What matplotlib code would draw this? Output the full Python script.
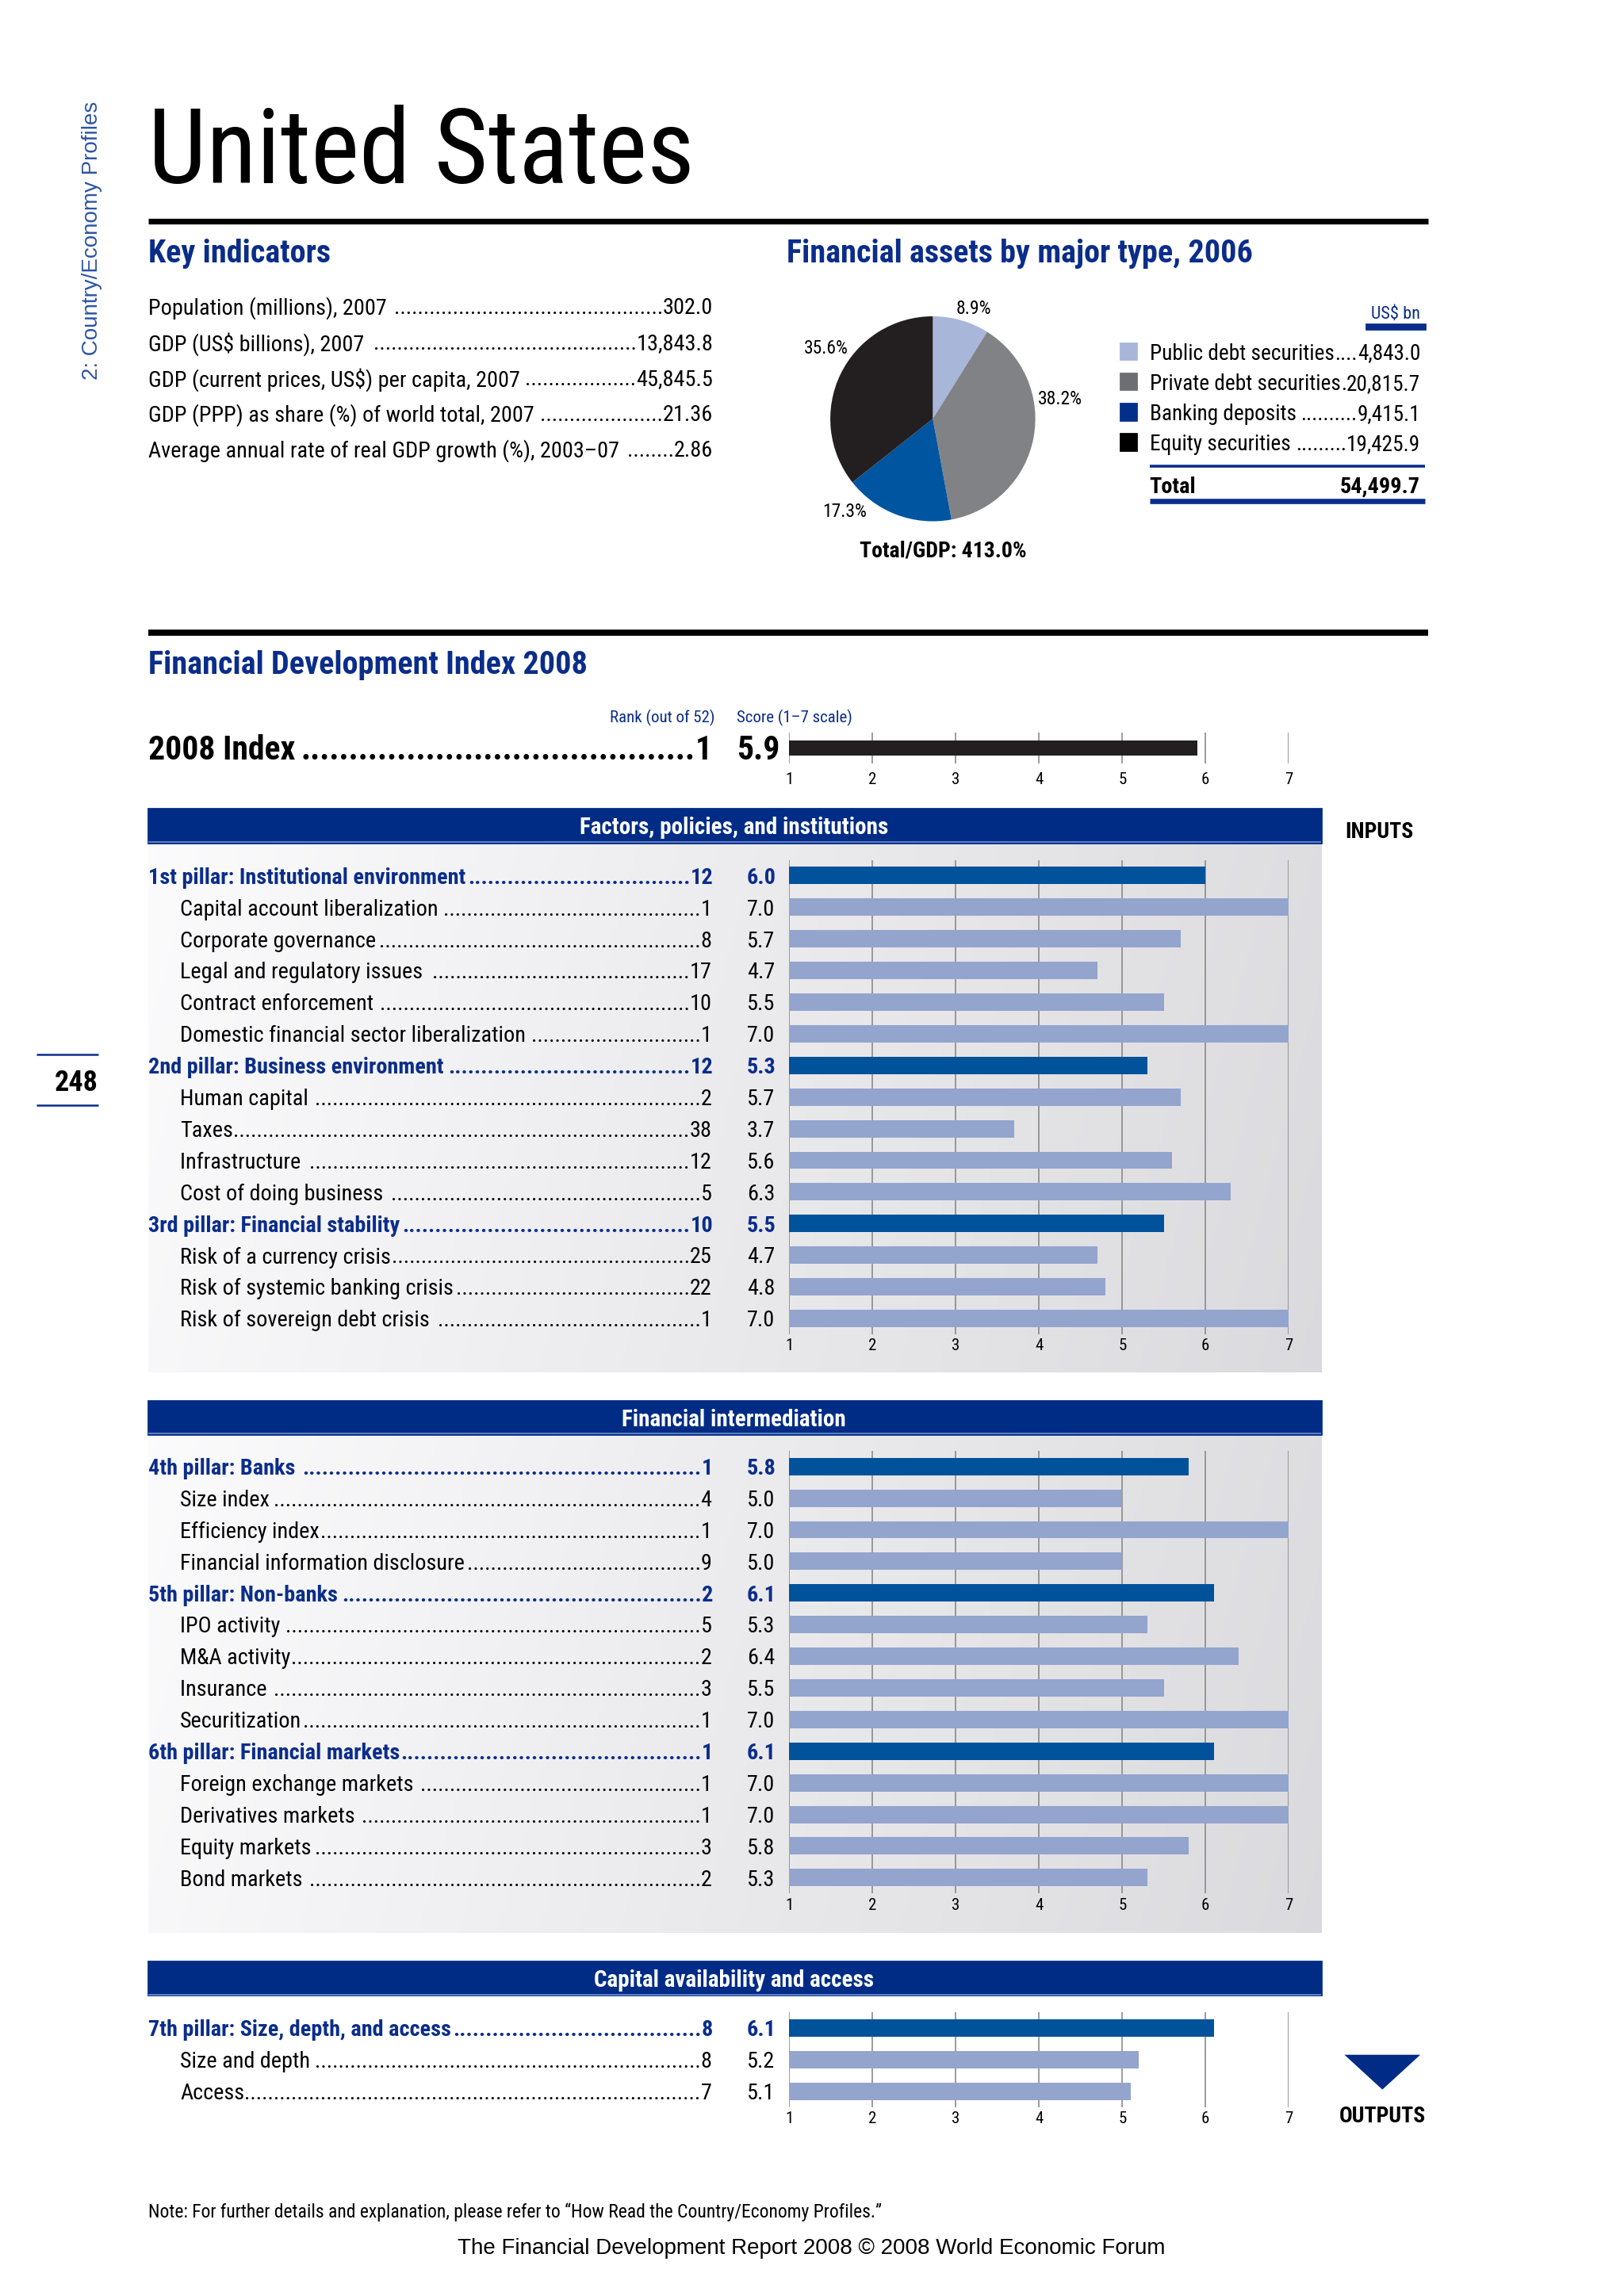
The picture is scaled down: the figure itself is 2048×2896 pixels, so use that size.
import matplotlib
matplotlib.use('Agg')
import matplotlib.pyplot as plt
import numpy as np
from matplotlib import font_manager, transforms
from matplotlib.patches import Rectangle, Polygon
from matplotlib.lines import Line2D

# ------------------------------------------------------------------
## data
key_labels = ['Population (millions), 2007',
              'GDP (US$ billions), 2007',
              'GDP (current prices, US$) per capita, 2007',
              'GDP (PPP) as share (%) of world total, 2007',
              'Average annual rate of real GDP growth (%), 2003\u201307']
key_values = ['302.0', '13,843.8', '45,845.5', '21.36', '2.86']

asset_types = ['Public debt securities', 'Private debt securities',
               'Banking deposits', 'Equity securities']
asset_values = [4843.0, 20815.7, 9415.1, 19425.9]
total_gdp = 413.0

index_rank = 1
index_score = 5.9

sec1_title = 'Factors, policies, and institutions'
sec1_labels = ['1st pillar: Institutional environment', 'Capital account liberalization',
               'Corporate governance', 'Legal and regulatory issues ', 'Contract enforcement',
               'Domestic financial sector liberalization', '2nd pillar: Business environment',
               'Human capital ', 'Taxes', 'Infrastructure ', 'Cost of doing business ',
               '3rd pillar: Financial stability', 'Risk of a currency crisis',
               'Risk of systemic banking crisis', 'Risk of sovereign debt crisis ']
sec1_ranks = [12, 1, 8, 17, 10, 1, 12, 2, 38, 12, 5, 10, 25, 22, 1]
sec1_scores = [6.0, 7.0, 5.7, 4.7, 5.5, 7.0, 5.3, 5.7, 3.7, 5.6, 6.3, 5.5, 4.7, 4.8, 7.0]

sec2_title = 'Financial intermediation'
sec2_labels = ['4th pillar: Banks ', 'Size index', 'Efficiency index', 'Financial information disclosure',
               '5th pillar: Non-banks', 'IPO activity', 'M&A activity', 'Insurance ', 'Securitization',
               '6th pillar: Financial markets', 'Foreign exchange markets ', 'Derivatives markets ',
               'Equity markets', 'Bond markets ']
sec2_ranks = [1, 4, 1, 9, 2, 5, 2, 3, 1, 1, 1, 1, 3, 2]
sec2_scores = [5.8, 5.0, 7.0, 5.0, 6.1, 5.3, 6.4, 5.5, 7.0, 6.1, 7.0, 7.0, 5.8, 5.3]

sec3_title = 'Capital availability and access'
sec3_labels = ['7th pillar: Size, depth, and access', 'Size and depth', 'Access']
sec3_ranks = [8, 8, 7]
sec3_scores = [6.1, 5.2, 5.1]

# ------------------------------------------------------------------
## fonts and colours
names = {f.name for f in font_manager.fontManager.ttflist}


def pick(cands, default):
    for c in cands:
        if c in names:
            return c
    return default


NARROW = pick(['Liberation Sans Narrow', 'Roboto Condensed', 'Open Sans Condensed'], 'Liberation Sans')
PLAIN = pick(['Liberation Sans', 'Noto Sans'], 'DejaVu Sans')

NAVY = '#0B2D8A'
HEADER = '#002C86'
PILLAR = '#00529B'
SUB = '#93A4CD'
GRID = '#8a8a8a'
BODY = 10.2

# page coordinates are given on a 1109 x 1568 grid
W, H = 1109.0, 1568.0
fig = plt.figure(figsize=(10.24, 14.48), dpi=200)
renderer = fig.canvas.get_renderer()


def fx(x):
    return x / W


def fy(y):
    return 1 - y / H


def shifted(tr):
    # centred text sits a touch low on the page: nudge it down by 1 pt
    return transforms.offset_copy(tr, fig=fig, y=-1.0, units='points')


def txt(x, y, s, size=BODY, weight='normal', color='black', ha='left', va='center',
        family=None, trans=None, **kw):
    tr = trans or fig.transFigure
    if va == 'center':
        tr = shifted(tr)
    return fig.text(fx(x), y if trans is not None else fy(y), s, fontsize=size,
                    fontweight=weight, color=color, ha=ha, va=va,
                    family=family or NARROW, transform=tr, **kw)


def hline(x0, x1, y, lw, color):
    fig.add_artist(Line2D([fx(x0), fx(x1)], [fy(y), fy(y)], lw=lw, color=color,
                          solid_capstyle='butt', transform=fig.transFigure))


def leader(x0, x1, y, label, value, size=BODY, weight='normal', color='black', trans=None):
    # label on the left, value on the right, dots in between
    t1 = txt(x0, y, label, size, weight, color, trans=trans)
    t2 = txt(x1, y, value, size, weight, color, ha='right', trans=trans)
    b1 = t1.get_window_extent(renderer)
    b2 = t2.get_window_extent(renderer)
    probe = fig.text(0, 0, '.' * 40, fontsize=size, fontweight=weight, family=NARROW)
    dw = probe.get_window_extent(renderer).width / 40
    probe.remove()
    n = int((b2.x0 - b1.x1) / dw)
    if n > 0:
        xs = b2.x0 - n * dw
        fig.text(xs / fig.bbox.width, y if trans is not None else fy(y), '.' * n,
                 fontsize=size, fontweight=weight, color=color, ha='left', va='center',
                 family=NARROW, transform=shifted(trans or fig.transFigure))


# ------------------------------------------------------------------
## page head
txt(63, 163, '2: Country/Economy Profiles', 10, color='#2F55A4', ha='center',
    family=PLAIN, rotation=90)
txt(101, 125, 'United States', 47, va='baseline')
hline(101, 975, 151, 2.6, 'black')

hline(25, 67, 720, 0.9, NAVY)
hline(25, 67, 755, 0.9, NAVY)
txt(67, 738, '248', 13, 'bold', ha='right')

# key indicators
txt(101, 172, 'Key indicators', 14.5, 'bold', NAVY)
for i, (lab, val) in enumerate(zip(key_labels, key_values)):
    leader(101, 487, 209 + 24.3 * i, lab + ' ', val)

# financial assets pie
txt(537, 172, 'Financial assets by major type, 2006', 14.5, 'bold', NAVY)
total = sum(asset_values)
pie_cols = ['#A8B6DA', '#818285', '#0055A0', '#231F20']
box_cols = ['#A8B6DA', '#6D6E71', '#00308A', '#000000']
# where the percentage labels sit, in pie radii from the centre
label_spots = [(0.40, 1.07), (1.24, 0.19), (-0.86, -0.91), (-1.04, 0.69)]
pax = fig.add_axes([fx(567), fy(356), 140 / W, 140 / H])
wedges, labs = pax.pie(asset_values, colors=pie_cols, startangle=90, counterclock=False,
                       labels=['%.1f%%' % (v / total * 100) for v in asset_values],
                       textprops=dict(fontsize=8.5, family=NARROW))
for t, p in zip(labs, label_spots):
    t.set_position(p)
    t.set_ha('center')
    t.set_va('center')
pax.set_xlim(-1, 1)
pax.set_ylim(-1, 1)
pax.set_aspect('equal')
pax.axis('off')
txt(644, 375, 'Total/GDP: %.1f%%' % total_gdp, 10, 'bold', ha='center')

txt(970, 213, 'US$ bn', 8, color=NAVY, ha='right')
fig.add_artist(Rectangle((fx(933), fy(224.5)), 40 / W, 3 / H, color=NAVY,
                         transform=fig.transFigure))
for i, (lab, v) in enumerate(zip(asset_types, asset_values)):
    y = 240 + 20.6 * i
    fig.add_artist(Rectangle((fx(765), fy(y + 5.5)), 11 / W, 11 / H, color=box_cols[i],
                             transform=fig.transFigure))
    leader(785, 970, y, lab, '{:,.1f}'.format(v), 9.8)
hline(785, 973, 318.5, 1.3, NAVY)
txt(785, 331, 'Total', 10.2, 'bold')
txt(970, 331, '{:,.1f}'.format(total), 10.2, 'bold', ha='right')
hline(785, 973, 342, 2.4, NAVY)

# ------------------------------------------------------------------
## Financial Development Index
hline(101, 975, 432, 2.8, 'black')
txt(101, 453, 'Financial Development Index 2008', 14.5, 'bold', NAVY)
txt(488, 489, 'Rank (out of 52)', 7.5, color=NAVY, ha='right')
txt(503, 489, 'Score (1\u20137 scale)', 7.5, color=NAVY)
leader(101, 486, 511, '2008 Index', str(index_rank), 15, 'bold')
txt(503, 511, '%.1f' % index_score, 15, 'bold')


def style_axis(ax, pad):
    ax.set_xlim(1, 7)
    ax.set_xticks(range(1, 8))
    ax.set_yticks([])
    ax.tick_params(axis='x', length=0, pad=pad, labelsize=7.5)
    for lab in ax.get_xticklabels():
        lab.set_family(NARROW)
    for s in ax.spines.values():
        s.set_visible(False)
    ax.grid(axis='x', color=GRID, lw=0.6)
    ax.set_axisbelow(True)
    ax.patch.set_alpha(0)


iax = fig.add_axes([fx(539), fy(521.5), fx(880) - fx(539), 21 / H])
iax.barh([0], [index_score - 1], left=1, height=0.5, color='#231F20')
iax.set_ylim(0.5, -0.5)
style_axis(iax, 4)


def panel(y0, y1):
    gax = fig.add_axes([fx(101), fy(y1), (902 - 101) / W, (y1 - y0) / H])
    xx = np.linspace(0, 1, 300)[None, :]
    yy = np.linspace(0, 1, 60)[:, None]
    t = np.clip(0.85 * xx + 0.1 * yy, 0, 1)
    lo = np.array([0.985, 0.985, 0.99])
    hi = np.array([0.85, 0.85, 0.865])
    img = lo[None, None, :] * (1 - t[..., None]) + hi[None, None, :] * t[..., None]
    gax.imshow(img, aspect='auto', extent=(0, 1, 0, 1))
    gax.axis('off')


def section(title, head_y, first_y, labels, ranks, scores, shaded, pad):
    fig.add_artist(Rectangle((fx(101), fy(head_y + 23)), (902 - 101) / W, 23 / H,
                             color=HEADER, transform=fig.transFigure))
    hline(101, 902, head_y + 22.6, 0.6, '#6F8FD0')
    txt(501, head_y + 11.5, title, 10.5, 'bold', 'white', ha='center')
    n = len(labels)
    step = 21.6
    if shaded is not None:
        panel(head_y + 23, shaded)
    y_top = first_y - step / 2
    y_bot = first_y + step * (n - 0.5)
    ax = fig.add_axes([fx(539), fy(y_bot), fx(880) - fx(539), (y_bot - y_top) / H])
    pillar = ['pillar:' in s for s in labels]
    ax.barh(range(n), [s - 1 for s in scores], left=1, height=0.55,
            color=[PILLAR if p else SUB for p in pillar])
    ax.set_ylim(n - 0.5, -0.5)
    style_axis(ax, pad)
    tr = transforms.blended_transform_factory(fig.transFigure, ax.transData)
    for i in range(n):
        if pillar[i]:
            leader(101, 487, i, labels[i], str(ranks[i]), BODY, 'bold', NAVY, trans=tr)
            txt(510, i, '%.1f' % scores[i], BODY, 'bold', NAVY, trans=tr)
        else:
            leader(123, 486, i, labels[i], str(ranks[i]), trans=tr)
            txt(510, i, '%.1f' % scores[i], trans=tr)
    return ax


section(sec1_title, 552.5, 598, sec1_labels, sec1_ranks, sec1_scores, 937, 2)
txt(942, 567, 'INPUTS', 10, 'bold', ha='center')
section(sec2_title, 956.5, 1001.5, sec2_labels, sec2_ranks, sec2_scores, 1320, 2)
section(sec3_title, 1339.5, 1385, sec3_labels, sec3_ranks, sec3_scores, None, 2)

fig.add_artist(Polygon([[fx(920), fy(1404)], [fx(968), fy(1404)], [fx(944), fy(1426)]],
                       closed=True, color=HEADER, transform=fig.transFigure))
txt(944, 1444, 'OUTPUTS', 10, 'bold', ha='center')

txt(101, 1509, 'Note: For further details and explanation, please refer to \u201cHow Read the '
    'Country/Economy Profiles.\u201d', 8.5)
txt(554, 1534, 'The Financial Development Report 2008 \u00a9 2008 World Economic Forum', 10,
    ha='center', family=PLAIN)

fig.savefig('out.png', dpi=200, facecolor='white')
